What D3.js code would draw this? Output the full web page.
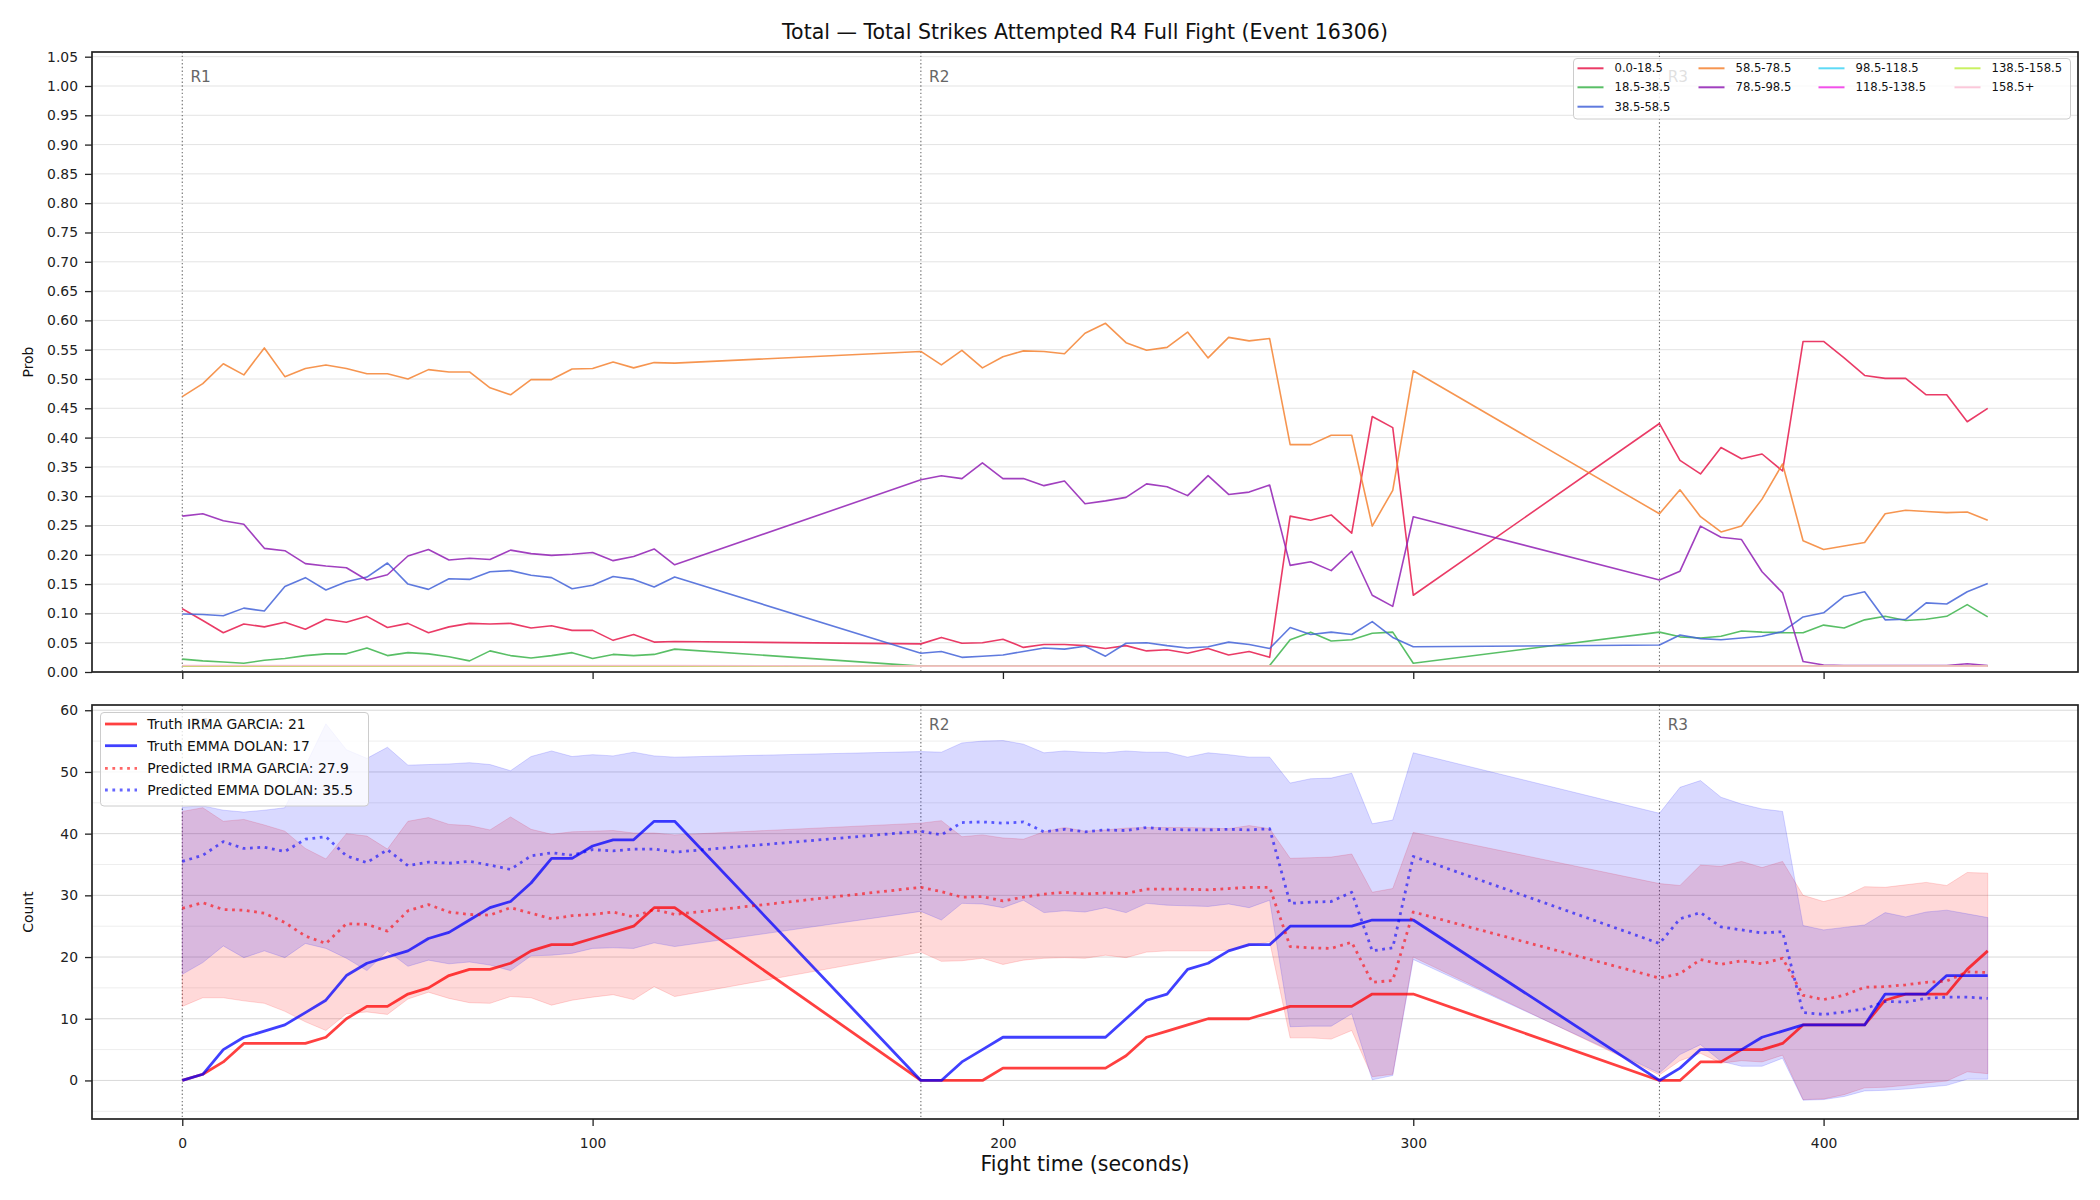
<!DOCTYPE html>
<html><head><meta charset="utf-8">
<script src="https://cdn.jsdelivr.net/npm/d3@7/dist/d3.min.js"></script>
<style>
body{margin:0;background:#fff;}
svg{display:block;font-family:"DejaVu Sans",sans-serif;}
</style></head><body>
<svg id="chart" width="2100" height="1200"></svg>
<script>
// ---------------- DATA ----------------
const times = [0,5,10,15,20,25,30,35,40,45,50,55,60,65,70,75,80,85,90,95,100,105,110,115,120,
  180,185,190,195,200,205,210,215,220,225,230,235,240,245,250,255,260,265,270,275,280,285,290,295,300,
  360,365,370,375,380,385,390,395,400,405,410,415,420,425,430,435,440];

const binLabels = ["0.0-18.5","18.5-38.5","38.5-58.5","58.5-78.5","78.5-98.5","98.5-118.5","118.5-138.5","138.5-158.5","158.5+"];

const prob_0_18 = [0.108,0.088,0.067,0.082,0.077,0.085,0.073,0.090,0.085,0.095,0.076,0.083,0.067,0.077,0.083,0.082,0.083,0.075,0.079,0.071,0.071,0.054,0.064,0.051,0.052,
  0.048,0.059,0.049,0.050,0.056,0.042,0.047,0.047,0.045,0.040,0.045,0.036,0.038,0.032,0.040,0.029,0.035,0.025,0.266,0.259,0.268,0.237,0.436,0.417,0.131,
  0.424,0.361,0.338,0.383,0.364,0.372,0.343,0.564,0.564,0.536,0.506,0.501,0.501,0.473,0.473,0.427,0.450];
const prob_18_38 = [0.022,0.019,0.017,0.015,0.020,0.023,0.028,0.031,0.031,0.041,0.028,0.033,0.031,0.026,0.019,0.036,0.028,0.024,0.028,0.033,0.023,0.030,0.028,0.030,0.039,
  0.010,0.010,0.010,0.010,0.010,0.010,0.010,0.010,0.010,0.010,0.010,0.010,0.010,0.010,0.010,0.010,0.010,0.011,0.055,0.068,0.053,0.055,0.066,0.068,0.015,
  0.068,0.060,0.058,0.061,0.070,0.068,0.067,0.067,0.080,0.075,0.089,0.095,0.088,0.090,0.095,0.115,0.094];
const prob_38_58 = [0.099,0.098,0.096,0.109,0.104,0.146,0.161,0.140,0.154,0.162,0.186,0.150,0.141,0.159,0.158,0.171,0.173,0.165,0.161,0.142,0.148,0.163,0.158,0.145,0.162,
  0.032,0.035,0.025,0.027,0.029,0.035,0.041,0.039,0.044,0.027,0.049,0.050,0.045,0.041,0.043,0.051,0.047,0.040,0.076,0.064,0.068,0.064,0.086,0.059,0.043,
  0.046,0.063,0.057,0.055,0.058,0.061,0.069,0.094,0.101,0.129,0.137,0.089,0.090,0.118,0.116,0.137,0.151];
const prob_58_78 = [0.470,0.492,0.526,0.507,0.553,0.504,0.518,0.524,0.518,0.509,0.509,0.500,0.516,0.512,0.512,0.485,0.473,0.499,0.499,0.517,0.518,0.529,0.519,0.528,0.527,
  0.547,0.524,0.549,0.519,0.538,0.548,0.547,0.543,0.578,0.595,0.562,0.549,0.554,0.580,0.536,0.571,0.565,0.569,0.388,0.388,0.404,0.404,0.249,0.310,0.514,
  0.270,0.311,0.265,0.239,0.249,0.295,0.355,0.224,0.209,0.215,0.221,0.270,0.276,0.274,0.272,0.273,0.259];
const prob_78_98 = [0.266,0.270,0.258,0.252,0.211,0.207,0.185,0.181,0.178,0.157,0.166,0.198,0.209,0.191,0.194,0.192,0.208,0.202,0.199,0.201,0.204,0.190,0.197,0.210,0.183,
  0.328,0.335,0.330,0.357,0.330,0.330,0.318,0.326,0.287,0.292,0.298,0.321,0.316,0.301,0.335,0.303,0.307,0.319,0.182,0.188,0.173,0.206,0.131,0.112,0.265,
  0.157,0.172,0.249,0.230,0.226,0.171,0.135,0.018,0.012,0.011,0.011,0.011,0.011,0.011,0.011,0.014,0.011];
const prob_98_118 = [0.010,0.010,0.010,0.010,0.010,0.010,0.010,0.010,0.010,0.010,0.010,0.010,0.010,0.010,0.010,0.010,0.010,0.010,0.010,0.010,0.010,0.010,0.010,0.010,0.010,
  0.010,0.010,0.010,0.010,0.010,0.010,0.010,0.010,0.010,0.010,0.010,0.010,0.010,0.010,0.010,0.010,0.010,0.010,0.010,0.010,0.010,0.010,0.010,0.010,0.010,
  0.010,0.010,0.010,0.010,0.010,0.010,0.010,0.010,0.010,0.010,0.010,0.010,0.010,0.010,0.010,0.010,0.010];
const prob_118_138 = [0.010,0.010,0.010,0.010,0.010,0.010,0.010,0.010,0.010,0.010,0.010,0.010,0.010,0.010,0.010,0.010,0.010,0.010,0.010,0.010,0.010,0.010,0.010,0.010,0.010,
  0.010,0.010,0.010,0.010,0.010,0.010,0.010,0.010,0.010,0.010,0.010,0.010,0.010,0.010,0.010,0.010,0.010,0.010,0.010,0.010,0.010,0.010,0.010,0.010,0.010,
  0.010,0.010,0.010,0.010,0.010,0.010,0.010,0.010,0.010,0.010,0.010,0.010,0.010,0.010,0.010,0.010,0.010];
const prob_138_158 = [0.010,0.010,0.010,0.010,0.010,0.010,0.010,0.010,0.010,0.010,0.010,0.010,0.010,0.010,0.010,0.010,0.010,0.010,0.010,0.010,0.010,0.010,0.010,0.010,0.010,
  0.010,0.010,0.010,0.010,0.010,0.010,0.010,0.010,0.010,0.010,0.010,0.010,0.010,0.010,0.010,0.010,0.010,0.010,0.010,0.010,0.010,0.010,0.010,0.010,0.010,
  0.010,0.010,0.010,0.010,0.010,0.010,0.010,0.010,0.010,0.010,0.010,0.010,0.010,0.010,0.010,0.010,0.010];
const prob_158p = [0.011,0.011,0.011,0.011,0.011,0.011,0.011,0.011,0.011,0.011,0.011,0.011,0.011,0.011,0.011,0.011,0.011,0.011,0.011,0.011,0.011,0.011,0.011,0.011,0.011,
  0.010,0.010,0.010,0.010,0.010,0.010,0.010,0.010,0.010,0.010,0.010,0.010,0.010,0.010,0.010,0.010,0.010,0.010,0.010,0.010,0.010,0.010,0.010,0.010,0.010,
  0.010,0.010,0.010,0.010,0.010,0.010,0.010,0.010,0.010,0.010,0.010,0.010,0.010,0.010,0.010,0.010,0.010];

const truthRed = [0,1,3,6,6,6,6,7,10,12,12,14,15,17,18,18,19,21,22,22,23,24,25,28,28,
  0,0,0,0,2,2,2,2,2,2,4,7,8,9,10,10,10,11,12,12,12,12,14,14,14,
  0,0,3,3,5,5,6,9,9,9,9,13,14,14,14,18,21];
const truthBlue = [0,1,5,7,8,9,11,13,17,19,20,21,23,24,26,28,29,32,36,36,38,39,39,42,42,
  0,0,3,5,7,7,7,7,7,7,10,13,14,18,19,21,22,22,25,25,25,25,26,26,26,
  0,2,5,5,5,7,8,9,9,9,9,14,14,14,17,17,17];
const predRed = [27.9,28.8,27.7,27.6,27.1,25.6,23.4,22.2,25.4,25.3,24.2,27.5,28.5,27.3,26.9,26.8,28.0,27.1,26.2,26.7,26.9,27.3,26.5,27.7,26.9,
  31.3,30.6,29.7,29.8,29.1,29.7,30.2,30.5,30.2,30.4,30.3,31.0,31.0,31.0,30.9,31.1,31.3,31.3,21.7,21.5,21.4,22.4,15.9,16.2,27.3,
  16.6,17.3,19.6,18.8,19.4,18.9,19.8,13.8,13.1,13.8,15.1,15.2,15.5,15.9,16.1,17.6,17.5];
const predBlue = [35.5,36.5,38.7,37.6,37.8,37.1,39.1,39.5,36.4,35.3,37.4,34.8,35.4,35.2,35.5,34.9,34.2,36.4,36.9,36.5,37.4,37.2,37.5,37.5,37.0,
  40.4,39.8,41.8,41.9,41.7,41.9,40.3,40.7,40.3,40.6,40.5,41.0,40.7,40.6,40.6,40.7,40.6,40.8,28.7,28.9,29.0,30.5,21.0,21.5,36.3,
  22.2,26.2,27.2,24.9,24.4,23.9,24.1,11.0,10.7,11.1,11.6,12.8,12.7,13.3,13.5,13.5,13.3];
const redHi = [43.6,44.2,42.0,42.3,41.4,40.4,37.6,35.9,40.0,39.6,37.5,42.0,42.6,41.5,41.3,40.6,42.7,40.7,39.9,40.3,40.4,40.5,40.1,40.1,39.8,
  41.7,42.1,39.5,39.8,39.3,39.1,40.3,41.0,40.4,40.6,40.9,41.0,41.0,41.0,40.9,40.8,41.3,40.8,36.0,36.1,36.2,36.7,30.5,31.1,40.2,
  31.9,31.6,34.9,34.7,35.5,34.5,35.5,30.0,29.0,29.8,31.4,31.3,31.7,32.1,31.6,33.7,33.6];
const redLo = [12.0,13.4,13.4,12.9,12.5,11.2,9.5,8.1,10.8,11.1,10.7,13.2,14.3,13.3,12.6,12.5,13.6,13.4,12.2,13.0,13.5,13.9,13.1,15.2,13.6,
  20.8,19.3,19.4,19.8,18.8,19.5,19.8,19.9,19.8,20.3,19.9,20.8,21.0,21.0,21.0,21.1,21.8,22.5,6.9,6.9,6.7,8.1,0.6,1.0,20.0,
  0.9,3.2,4.4,2.8,3.2,3.0,4.1,-3.1,-3.0,-2.3,-1.2,-1.1,-0.8,-0.4,-0.1,1.4,1.1];
const blueHi = [44.3,44.5,43.8,43.5,43.8,44.2,51.0,57.8,53.6,52.2,54.0,51.1,51.2,51.3,51.5,51.2,50.2,52.5,53.4,52.5,52.8,52.6,53.2,52.6,52.4,
  53.3,53.2,54.7,55.0,55.1,54.5,53.1,53.4,53.2,53.1,53.4,53.2,53.2,52.4,53.1,52.8,52.4,52.4,48.2,48.9,49.0,49.8,41.6,42.2,53.1,
  43.3,47.5,48.6,45.9,44.8,44.0,43.6,25.1,24.4,24.8,25.2,27.2,26.5,27.3,27.6,27.0,26.4];
const blueLo = [17.2,19.1,21.8,19.9,21.0,19.9,22.2,21.4,19.8,17.8,21.0,18.5,19.5,18.9,19.2,18.7,17.8,20.2,20.3,20.6,21.4,21.5,21.4,22.3,21.7,
  27.4,26.0,28.7,28.6,28.0,29.2,27.2,27.5,27.3,28.0,27.2,28.7,28.4,28.3,28.2,28.6,28.0,29.2,8.7,8.8,8.8,10.8,0.1,0.8,19.6,
  1.2,4.2,5.8,3.1,2.3,2.3,3.6,-3.2,-3.1,-2.6,-1.7,-1.6,-1.4,-1.1,-0.8,0.2,0.2];

const roundStarts = [0,180,360];
const roundLabels = ["R1","R2","R3"];
const xTicks = [0,100,200,300,400];
const probTicks = [0,0.05,0.10,0.15,0.20,0.25,0.30,0.35,0.40,0.45,0.50,0.55,0.60,0.65,0.70,0.75,0.80,0.85,0.90,0.95,1.00,1.05];
const countTicks = [0,10,20,30,40,50,60];
const countMinor = [-5,5,15,25,35,45,55];
const fighterNames = ["IRMA GARCIA","EMMA DOLAN"];

// ---------------- STYLE / LAYOUT ----------------
const binColors = ["#e6194b","#3cb44b","#4363d8","#f58231","#911eb4","#42d4f4","#f032e6","#bfef45","#fabed4"];
const FONT = "DejaVu Sans";
const L = 92, R = 2078;
const T0 = 52, T1 = 672, B0 = 705, B1 = 1119;

const svg = d3.select("#chart");
function padDomain(ext){ const m = (ext[1]-ext[0])*0.05; return [ext[0]-m, ext[1]+m]; }

const x = d3.scaleLinear().domain(padDomain(d3.extent(times))).range([L, R]);
const yTop = d3.scaleLinear().domain([0, 1.058]).range([T1, T0]);
const yBot = d3.scaleLinear().domain(padDomain(d3.extent([...redLo,...redHi,...blueLo,...blueHi]))).range([B1, B0]);

// clip paths
const defs = svg.append("defs");
defs.append("clipPath").attr("id","clipTop").append("rect").attr("x",L).attr("y",T0).attr("width",R-L).attr("height",T1-T0);
defs.append("clipPath").attr("id","clipBot").append("rect").attr("x",L).attr("y",B0).attr("width",R-L).attr("height",B1-B0);

// -------- grids --------
const gTop = svg.append("g");
gTop.selectAll("line.grid").data(probTicks).join("line")
  .attr("x1",L).attr("x2",R).attr("y1",d=>yTop(d)).attr("y2",d=>yTop(d))
  .attr("stroke","#e3e3e3").attr("stroke-width",1);

const gBot = svg.append("g");
gBot.selectAll("line.minor").data(countMinor).join("line")
  .attr("x1",L).attr("x2",R).attr("y1",d=>yBot(d)).attr("y2",d=>yBot(d))
  .attr("stroke","#eeeeee").attr("stroke-width",1);
gBot.selectAll("line.major").data(countTicks).join("line")
  .attr("x1",L).attr("x2",R).attr("y1",d=>yBot(d)).attr("y2",d=>yBot(d))
  .attr("stroke","#d9d9d9").attr("stroke-width",1);

// -------- round lines --------
function roundLines(g, y0, y1){
  g.selectAll(null).data(roundStarts).join("line")
    .attr("x1",d=>x(d)).attr("x2",d=>x(d)).attr("y1",y0).attr("y2",y1)
    .attr("stroke","#555").attr("stroke-opacity",0.85).attr("stroke-width",1.1)
    .attr("stroke-dasharray","1.4,2.3");
}
roundLines(gTop, T0, T1);
roundLines(gBot, B0, B1);

// round labels
gTop.selectAll("text.rl").data(roundStarts).join("text")
  .attr("x",d=>x(d+2)).attr("y",yTop(1.0)-3.6)
  .attr("font-family",FONT).attr("font-size",15.3).attr("fill","#666")
  .text((d,i)=>roundLabels[i]);
gBot.selectAll("text.rl").data(roundStarts).join("text")
  .attr("x",d=>x(d+2)).attr("y",730)
  .attr("font-family",FONT).attr("font-size",15.3).attr("fill","#666")
  .text((d,i)=>roundLabels[i]);

// -------- top lines --------
const probSeries = [prob_0_18,prob_18_38,prob_38_58,prob_58_78,prob_78_98,prob_98_118,prob_118_138,prob_138_158,prob_158p];
const lineTop = d3.line().x((d,i)=>x(times[i])).y(d=>yTop(d));
const topData = gTop.append("g").attr("clip-path","url(#clipTop)");
probSeries.forEach((s,k)=>{
  topData.append("path").datum(s).attr("d",lineTop)
    .attr("fill","none").attr("stroke",binColors[k]).attr("stroke-opacity",0.85)
    .attr("stroke-width",1.6).attr("stroke-linejoin","round");
});

// -------- bottom --------
const botData = gBot.append("g").attr("clip-path","url(#clipBot)");
const idx = d3.range(times.length);
function band(lo, hi, color){
  const area = d3.area().x(i=>x(times[i])).y0(i=>yBot(lo[i])).y1(i=>yBot(hi[i]));
  botData.append("path").datum(idx).attr("d",area)
    .attr("fill",color).attr("fill-opacity",0.15)
    .attr("stroke",color).attr("stroke-opacity",0.15).attr("stroke-width",1);
}
band(redLo, redHi, "red");
band(blueLo, blueHi, "blue");
const lineBot = d3.line().x((d,i)=>x(times[i])).y(d=>yBot(d));
function drawLine(s, color, op, dashed){
  const p = botData.append("path").datum(s).attr("d",lineBot)
    .attr("fill","none").attr("stroke",color).attr("stroke-opacity",op)
    .attr("stroke-width",2.78).attr("stroke-linejoin","round");
  if(dashed) p.attr("stroke-dasharray","2.78,4.6");
}
drawLine(truthRed,"red",0.75,false);
drawLine(truthBlue,"blue",0.75,false);
drawLine(predRed,"red",0.6,true);
drawLine(predBlue,"blue",0.6,true);

// -------- axes --------
function styleAxis(g){
  g.attr("font-family",FONT).attr("font-size",13.9);
  g.select(".domain").remove();
  g.selectAll(".tick line").attr("stroke","#222").attr("stroke-width",1.3);
  g.selectAll(".tick text").attr("fill","#222");
}
svg.append("g").attr("transform",`translate(${L},0)`)
  .call(d3.axisLeft(yTop).tickValues(probTicks).tickFormat(d3.format(".2f")).tickSize(7).tickPadding(7))
  .call(styleAxis);
svg.append("g").attr("transform",`translate(0,${T1})`)
  .call(d3.axisBottom(x).tickValues(xTicks).tickFormat("").tickSize(7))
  .call(styleAxis);
svg.append("g").attr("transform",`translate(${L},0)`)
  .call(d3.axisLeft(yBot).tickValues(countTicks).tickFormat(d3.format("d")).tickSize(7).tickPadding(7))
  .call(styleAxis);
svg.append("g").attr("transform",`translate(0,${B1})`)
  .call(d3.axisBottom(x).tickValues(xTicks).tickFormat(d3.format("d")).tickSize(7).tickPadding(12))
  .call(styleAxis);

// spines
[[T0,T1],[B0,B1]].forEach(([a,b])=>{
  svg.append("rect").attr("x",L).attr("y",a).attr("width",R-L).attr("height",b-a)
    .attr("fill","none").attr("stroke","#222").attr("stroke-width",1.7);
});

// -------- text labels --------
svg.append("text").attr("x",(L+R)/2).attr("y",38.5).attr("text-anchor","middle")
  .attr("font-family",FONT).attr("font-size",20.5).attr("fill","#111")
  .text("Total \u2014 Total Strikes Attempted R4 Full Fight (Event 16306)");
svg.append("text").attr("x",(L+R)/2).attr("y",1171).attr("text-anchor","middle")
  .attr("font-family",FONT).attr("font-size",20.5).attr("fill","#111")
  .text("Fight time (seconds)");
svg.append("text").attr("transform",`translate(28,${(T0+T1)/2}) rotate(-90)`).attr("dy","0.35em")
  .attr("text-anchor","middle").attr("font-family",FONT).attr("font-size",13.9).attr("fill","#111").text("Prob");
svg.append("text").attr("transform",`translate(28,${(B0+B1)/2}) rotate(-90)`).attr("dy","0.35em")
  .attr("text-anchor","middle").attr("font-family",FONT).attr("font-size",13.9).attr("fill","#111").text("Count");

// -------- top legend --------
const lgT = svg.append("g");
lgT.append("rect").attr("x",1573.5).attr("y",58.5).attr("width",497).attr("height",60.5).attr("rx",3.5)
  .attr("fill","#fff").attr("fill-opacity",0.8).attr("stroke","#ccc").attr("stroke-width",1);
const colOf = [0,0,0,1,1,2,2,3,3], rowOf = [0,1,2,0,1,0,1,0,1];
const colX = [1577.5,1698.5,1818.5,1954.5], rowY = [68.3,87.3,106.7];
binLabels.forEach((lab,k)=>{
  const cx = colX[colOf[k]], cy = rowY[rowOf[k]];
  lgT.append("line").attr("x1",cx).attr("x2",cx+26).attr("y1",cy).attr("y2",cy)
    .attr("stroke",binColors[k]).attr("stroke-opacity",0.85).attr("stroke-width",2);
  lgT.append("text").attr("x",cx+37).attr("y",cy).attr("dy","0.36em")
    .attr("font-family",FONT).attr("font-size",11.6).attr("fill","#111").text(lab);
});

// -------- bottom legend --------
const lgB = svg.append("g");
lgB.append("rect").attr("x",100.5).attr("y",712.5).attr("width",268).attr("height",93.5).attr("rx",3.5)
  .attr("fill","#fff").attr("fill-opacity",0.8).attr("stroke","#ccc").attr("stroke-width",1);
const legItems = [
  {label:`Truth ${fighterNames[0]}: ${truthRed[truthRed.length-1]}`, color:"red", op:0.75, dash:null},
  {label:`Truth ${fighterNames[1]}: ${truthBlue[truthBlue.length-1]}`, color:"blue", op:0.75, dash:null},
  {label:`Predicted ${fighterNames[0]}: ${predRed[0].toFixed(1)}`, color:"red", op:0.6, dash:"2.78,4.6"},
  {label:`Predicted ${fighterNames[1]}: ${predBlue[0].toFixed(1)}`, color:"blue", op:0.6, dash:"2.78,4.6"}
];
const legRowY = [724,745.7,768.3,790];
legItems.forEach((it,i)=>{
  const cy = legRowY[i];
  const ln = lgB.append("line").attr("x1",105).attr("x2",137).attr("y1",cy).attr("y2",cy)
    .attr("stroke",it.color).attr("stroke-opacity",it.op).attr("stroke-width",2.78);
  if(it.dash) ln.attr("stroke-dasharray",it.dash);
  lgB.append("text").attr("x",147.3).attr("y",cy).attr("dy","0.36em")
    .attr("font-family",FONT).attr("font-size",13.9).attr("fill","#111").text(it.label);
});
</script>
</body></html>
